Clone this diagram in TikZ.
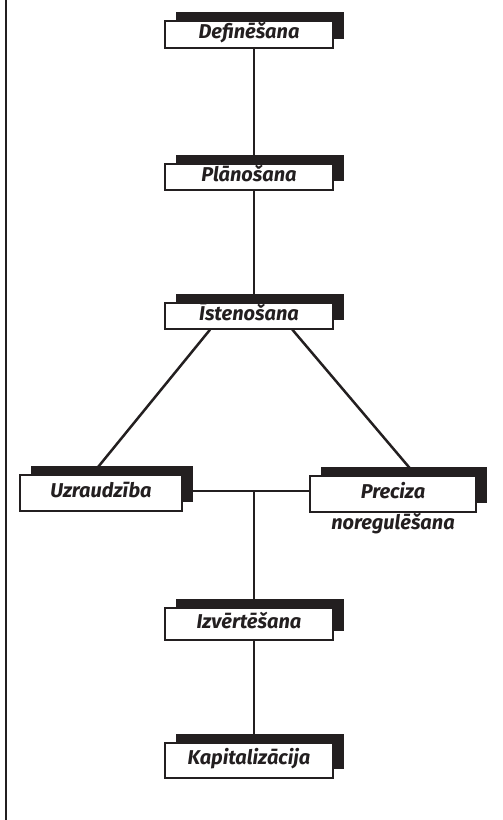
\documentclass[tikz,border=0pt]{standalone}
\usepackage{fontspec}
\setmainfont{Fira Sans}
\usetikzlibrary{shadows,calc,backgrounds}
\definecolor{ink}{RGB}{35,31,32}
\begin{document}
\begin{tikzpicture}[x=1pt,y=-1pt,
  boxtext/.style={text=ink, font=\bfseries\itshape\fontsize{20}{22}\selectfont},
  stepbox/.style={boxtext, draw=ink, line width=1.1pt, fill=white, minimum width=168pt,
    inner sep=0pt, text height=13pt, text depth=4.5pt,
    general shadow={fill=ink, shadow xshift=10.5pt, shadow yshift=9pt}},
  conn/.style={draw=ink, line width=2.5pt}]
\useasboundingbox (0,0) rectangle (503,820);
\coordinate (bt) at (6,0);
\coordinate (bb) at (6,820);
\draw[ink, line width=1.5pt] (bt) -- (bb);

\node[stepbox, minimum height=27pt] (def) at (249,34.5) {Definēšana};
\node[stepbox, minimum height=26pt] (plan) at (249,177) {Plānošana};
\node[stepbox, minimum height=26pt] (ist) at (249,316) {Īstenošana};
\node[stepbox, minimum width=162pt, minimum height=36pt] (uz) at (101,493) {Uzraudzība};
\node[stepbox, minimum width=166pt, minimum height=36pt,
  label={[boxtext, inner sep=0pt]below=4pt:noregulēšana}] (pr) at (393,494) {Preciza};
\node[stepbox, minimum height=32pt] (izv) at (249,624) {Izvērtēšana};
\node[stepbox, minimum height=35pt] (kap) at (249,760.5) {Kapitalizācija};
\coordinate (j) at (254,491);

\begin{scope}[on background layer]
\draw[conn] ([xshift=5pt]def.south) -- ([xshift=5pt]plan.north);
\draw[conn] ([xshift=5pt]plan.south) -- ([xshift=5pt]ist.north);
\draw[conn] ($(ist.south west)!0.27!(ist.south east)$) -- ([xshift=-9pt]uz.north);
\draw[conn] ($(ist.south west)!0.756!(ist.south east)$) -- ([xshift=23pt]pr.north);
\draw[conn] (uz.east |- j) -- (pr.west |- j);
\draw[conn] (j) -- ([xshift=5pt]izv.north);
\draw[conn] ([xshift=5pt]izv.south) -- ([xshift=5pt]kap.north);
\end{scope}
\end{tikzpicture}
\end{document}
